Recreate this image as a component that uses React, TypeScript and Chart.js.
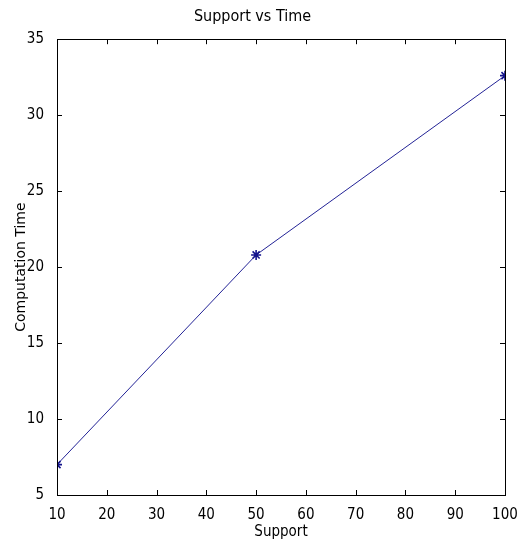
import React, { useEffect, useRef } from "react";
import { Chart, registerables } from "chart.js";

Chart.register(...registerables);

const supportValues = [10, 50, 100];
const timeValues = [7.0, 20.8, 32.6];
const xTickValues = [10, 20, 30, 40, 50, 60, 70, 80, 90, 100];
const yTickValues = [5, 10, 15, 20, 25, 30, 35];
const chartTitle = "Support vs Time";
const xTitle = "Support";
const yTitle = "Computation Time";

const NARROW = '"Liberation Sans Narrow", "DejaVu Sans Condensed", "Liberation Sans", Arial, sans-serif';

const boxTicksPlugin = {
  id: "boxTicks",
  afterDraw(chart: any) {
    const { ctx, chartArea } = chart;
    const { left, right, top, bottom } = chartArea;
    const xs = chart.scales.x;
    const ys = chart.scales.y;
    const len = 5;
    ctx.save();
    ctx.strokeStyle = "#000";
    ctx.lineWidth = 1;
    ctx.beginPath();
    ctx.rect(Math.round(left) + 0.5, Math.round(top) + 0.5, Math.round(right - left), Math.round(bottom - top));
    ctx.stroke();
    ctx.beginPath();
    xTickValues.forEach((v) => {
      const px = Math.round(xs.getPixelForValue(v)) + 0.5;
      ctx.moveTo(px, bottom);
      ctx.lineTo(px, bottom - len);
      ctx.moveTo(px, top);
      ctx.lineTo(px, top + len);
    });
    yTickValues.forEach((v) => {
      const py = Math.round(ys.getPixelForValue(v)) + 0.5;
      ctx.moveTo(left, py);
      ctx.lineTo(left + len, py);
      ctx.moveTo(right, py);
      ctx.lineTo(right - len, py);
    });
    ctx.stroke();
    ctx.restore();
  },
};

export default function App() {
  const canvasRef = useRef<HTMLCanvasElement>(null);

  useEffect(() => {
    document.body.style.margin = "0";
    const canvas = canvasRef.current;
    if (!canvas) return;
    const chart = new Chart(canvas, {
      type: "line",
      data: {
        datasets: [
          {
            label: "time",
            data: supportValues.map((x, i) => ({ x, y: timeValues[i] })),
            borderColor: "rgb(35,35,150)",
            borderWidth: 1,
            pointStyle: "star",
            pointRadius: 5,
            pointBorderColor: "rgb(20,20,140)",
            pointBorderWidth: 1.6,
            pointBackgroundColor: "rgb(20,20,140)",
            tension: 0,
            fill: false,
          },
        ],
      },
      options: {
        animation: false,
        responsive: false,
        devicePixelRatio: 1,
        layout: { padding: { left: 0, right: 16, top: 0, bottom: 0 } },
        plugins: {
          legend: { display: false },
          tooltip: { enabled: false },
          title: {
            display: true,
            text: chartTitle,
            color: "#000",
            font: { family: NARROW, size: 16, weight: "normal", lineHeight: 1.2 },
            padding: { top: 7, bottom: 13 },
          },
        },
        scales: {
          x: {
            type: "linear",
            min: 10,
            max: 100,
            afterFit: (s: any) => {
              s.height = 47;
            },
            afterBuildTicks: (s: any) => {
              s.ticks = xTickValues.map((v) => ({ value: v }));
            },
            grid: { display: false },
            border: { display: true, color: "#000", width: 1 },
            ticks: {
              color: "#000",
              padding: 3,
              maxRotation: 0,
              autoSkip: false,
              font: { family: NARROW, size: 15, lineHeight: 1.2 },
            },
            title: {
              display: true,
              text: xTitle,
              color: "#000",
              font: { family: NARROW, size: 15, lineHeight: 1.2 },
              padding: { top: 0, bottom: 1 },
            },
          },
          y: {
            type: "linear",
            min: 5,
            max: 35,
            afterFit: (s: any) => {
              s.width = 57;
            },
            afterBuildTicks: (s: any) => {
              s.ticks = yTickValues.map((v) => ({ value: v }));
            },
            grid: { display: false },
            border: { display: true, color: "#000", width: 1 },
            ticks: {
              color: "#000",
              padding: 5,
              autoSkip: false,
              font: { family: NARROW, size: 15, lineHeight: 1.2 },
            },
            title: {
              display: true,
              text: yTitle,
              color: "#000",
              font: { family: '"DejaVu Sans", sans-serif', size: 14, lineHeight: 1.2 },
              padding: { top: 13, bottom: 0 },
            },
          },
        },
      },
      plugins: [boxTicksPlugin],
    } as any);
    return () => chart.destroy();
  }, []);

  return (
    <div style={{ width: 521, height: 542 }}>
      <canvas ref={canvasRef} width={521} height={542} style={{ display: "block" }} />
    </div>
  );
}
